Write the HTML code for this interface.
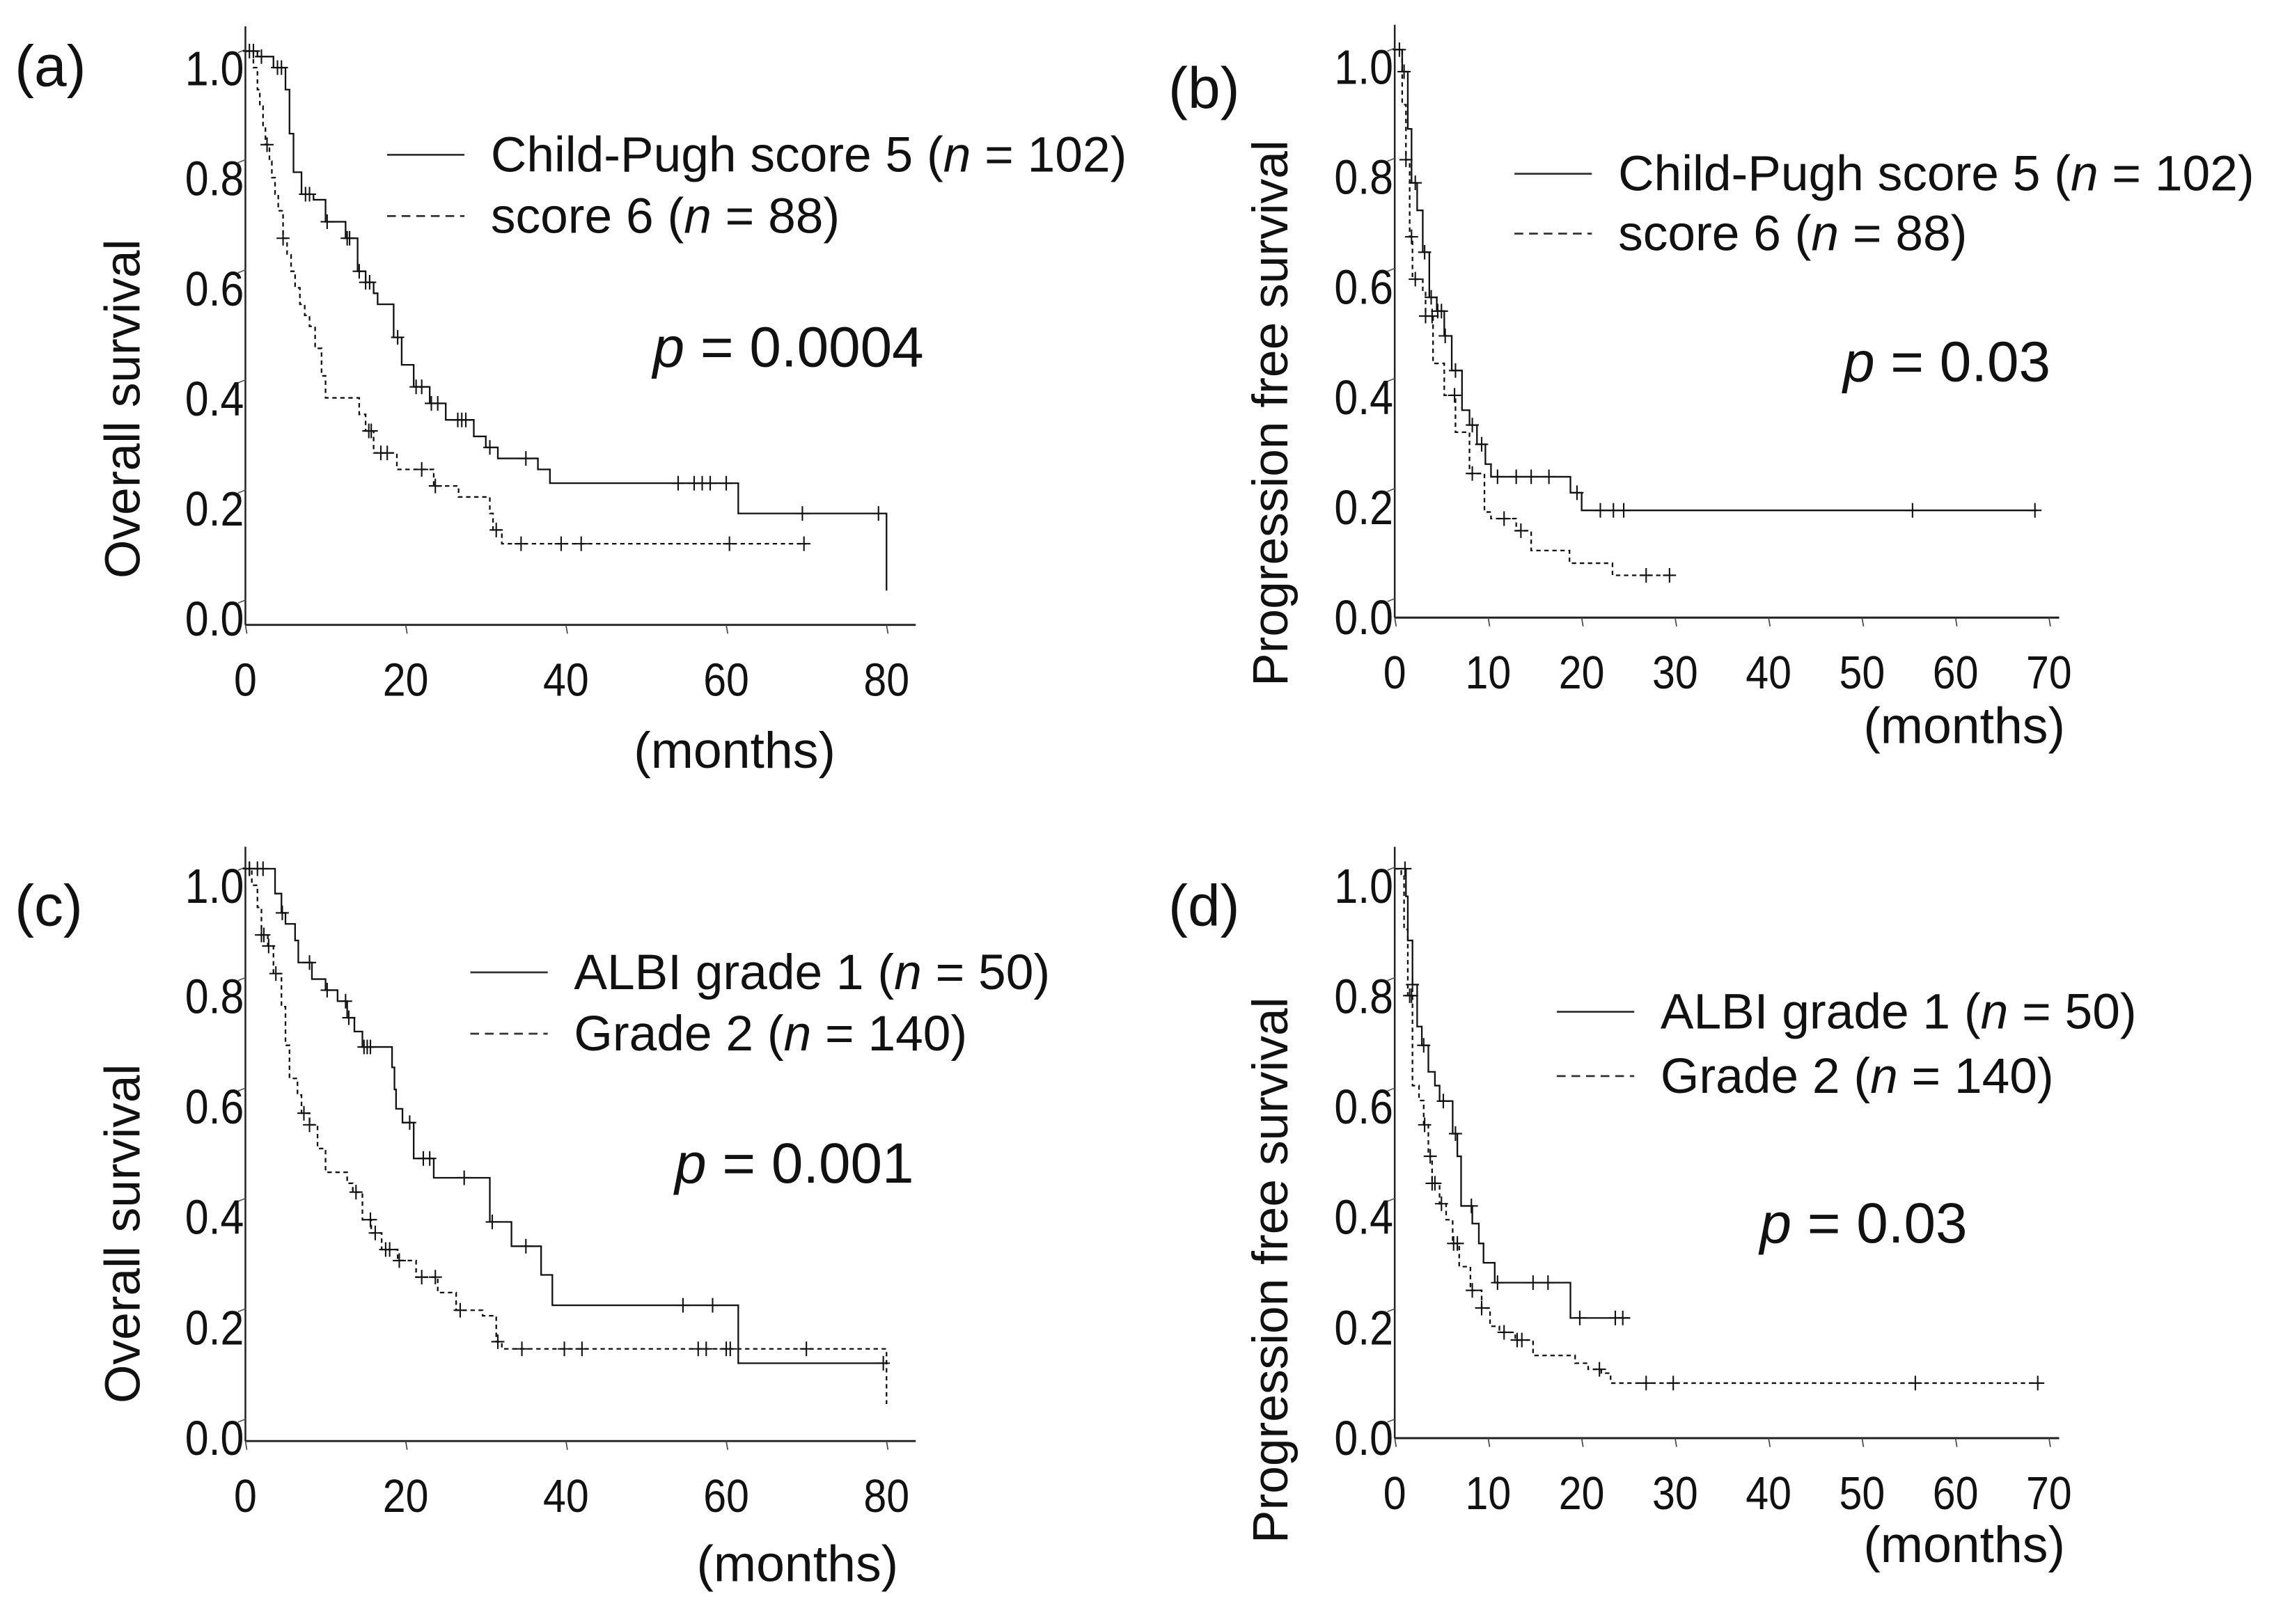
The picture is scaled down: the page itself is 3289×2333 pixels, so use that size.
<!DOCTYPE html>
<html><head><meta charset="utf-8"><style>
html,body{margin:0;padding:0;background:#fff}
svg{display:block}
text{font-family:"Liberation Sans",sans-serif;fill:#111}
</style></head><body>
<svg id="fig" xmlns="http://www.w3.org/2000/svg" width="3289" height="2333" viewBox="0 0 1568 1112.3"></svg>
<script>
// ---- Panel (a): Overall survival by Child-Pugh ----
const aSolidSteps=[[1.5,.99],[3.5,.97],[5,.93],[5.5,.85],[6,.78],[7,.74],[8.5,.73],[10,.69],[12.5,.66],[14,.6],[15,.58],[16,.56],[16.5,.54],[18.5,.48],[19.5,.43],[21,.39],[23,.36],[25,.33],[28.5,.3],[30,.28],[31.5,.26],[36.5,.24],[38,.215],[61.5,.16],[80,.02]];
const aSolidEnd=80;
const aSolidCens=[0.5,1,2,4,4.5,7.5,8,10.2,12.7,13,14.2,15,15.5,19,21.3,22,23.2,24,26.5,27,27.5,30.5,35,54,56,57,58,60,69.5,79];
const aDashSteps=[[1,.97],[1.5,.93],[1.8,.9],[2.2,.86],[2.5,.83],[3,.8],[3.3,.77],[3.7,.74],[4.1,.71],[4.7,.66],[5.2,.63],[5.7,.6],[6.2,.57],[6.8,.54],[7.4,.52],[8,.5],[8.7,.46],[9.5,.41],[10,.37],[14.2,.34],[15,.31],[16,.27],[18.9,.24],[23.5,.21],[26.6,.19],[30.5,.16],[30.9,.13],[32,.105]];
const aDashEnd=70;
const aDashCens=[2.7,4.7,15.4,15.7,16.9,17.7,22,23.7,31.3,34.4,39.4,41.9,60.4,69.7];
// ---- Panel (b): PFS by Child-Pugh ----
const bSolidSteps=[[0.8,.96],[1.4,.856],[1.8,.758],[2.4,.708],[3,.632],[3.7,.55],[4.5,.525],[5.3,.48],[6.1,.417],[7.2,.345],[8,.318],[8.8,.283],[9.7,.247],[10.3,.224],[18.8,.195],[20,.163]];
const bSolidEnd=68.7;
const bSolidCens=[0.5,1,2.2,3.2,3.9,4.6,5,5.4,6.5,8.3,9.3,11,13,14.6,16.5,19.5,22,23.4,24.5,55.4,68.5];
const bDashSteps=[[0.8,.9],[1.2,.8],[1.6,.66],[1.9,.583],[3,.56],[3.3,.516],[4.1,.43],[5.3,.372],[6.5,.305],[8,.23],[9.6,.16],[10.3,.148],[13,.126],[14.6,.09],[18.7,.067],[23.3,.045]];
const bDashEnd=29.8;
const bDashCens=[1.2,1.8,2.2,3.3,4,6.4,8.3,11.7,13.5,26.9,29.4];
// ---- Panel (c): OS by ALBI ----
const cSolidSteps=[[3.7,.955],[4.5,.92],[5,.9],[6.2,.87],[6.6,.83],[8.3,.8],[10,.78],[11.5,.76],[12.7,.73],[13.6,.705],[14.6,.677],[18.3,.64],[18.6,.6],[18.8,.565],[19.6,.54],[21,.475],[23.5,.44],[30.5,.36],[33.2,.316],[36.9,.264],[38.3,.209],[61.5,.104]];
const cSolidEnd=80;
const cSolidCens=[0.5,1.5,2.2,4.6,8,10.2,12.5,12.9,14.8,15.2,15.6,20.5,22.2,23,27.3,30.8,35,54.6,58.3,79.6];
const cDashSteps=[[0.8,.97],[1.5,.93],[2,.88],[2.8,.86],[3.5,.81],[4.5,.75],[5,.68],[5.5,.62],[6.5,.59],[7,.557],[8,.536],[9,.493],[10,.45],[12.7,.43],[13.4,.414],[14.6,.364],[15.7,.34],[17,.31],[19,.29],[21.3,.26],[24,.232],[26.3,.2],[29.6,.19],[31.3,.143],[32,.13],[80,.03]];
const cDashEnd=80;
const cDashCens=[0.5,2,2.3,2.9,3.8,7.3,8,13.8,15.6,16.2,17.5,18,19.2,22,23.7,26.8,31.5,34.5,39.8,42,56.5,57.5,60,60.5,70];
// ---- Panel (d): PFS by ALBI ----
const dSolidSteps=[[1.2,.95],[1.4,.87],[1.9,.79],[2.4,.714],[2.9,.68],[3.6,.632],[4.3,.607],[4.8,.579],[6.2,.52],[6.7,.479],[7.1,.389],[8.3,.357],[9,.321],[9.5,.286],[10.7,.25],[18.8,.186]];
const dSolidEnd=25.2;
const dSolidCens=[1.1,1.9,3.1,5.2,6.5,8.2,11,14.8,16.4,19.8,23.6,24.4];
const dDashSteps=[[0.7,.99],[1,.89],[1.4,.77],[1.9,.607],[2.6,.58],[3.1,.536],[3.6,.479],[4,.43],[4.8,.393],[5.5,.364],[6.2,.321],[6.9,.279],[8.1,.236],[9.3,.204],[10.2,.171],[11.2,.16],[12.9,.146],[14.8,.118],[19.3,.104],[20.7,.093],[22.1,.086],[23.1,.068]];
const dDashEnd=69;
const dDashCens=[1.6,1.8,3.2,3.8,4,4.3,5,6.3,6.7,8.3,9.3,11.7,13.1,13.6,21.9,26.9,29.8,55.7,68.8];
// ---- tick labels ----
const osXTicks=[0,20,40,60,80];
const pfsXTicks=[0,10,20,30,40,50,60,70];
const yTicks=[0.0,0.2,0.4,0.6,0.8,1.0];
const yTickLabels=["0.0","0.2","0.4","0.6","0.8","1.0"];

const NS="http://www.w3.org/2000/svg";
const fig=document.getElementById('fig');
function mk(tag,attrs,parent){const e=document.createElementNS(NS,tag);for(const k in attrs)e.setAttribute(k,attrs[k]);(parent||fig).appendChild(e);return e;}
function txt(s,x,y,size,parent,anchor,extra){const t=mk('text',Object.assign({x:x,y:y,'font-size':size,'text-anchor':anchor||'start','dominant-baseline':'central'},extra||{}),parent);t.textContent=s;return t;}
function survAt(steps,t){let v=1;for(const s of steps){if(s[0]<=t)v=s[1];else break;}return v;}

function panel(cfg){
  const g=mk('g',{});
  
  
  const X=t=>cfg.x0+t*cfg.xs, Y=v=>cfg.y0-v*cfg.ys;
  const ya=mk('line',{x1:cfg.x0,y1:cfg.yTop,x2:cfg.x0,y2:cfg.axisY,stroke:'#222','stroke-width':1.2},g);
  
  
  const xa=mk('line',{x1:cfg.x0,y1:cfg.axisY,x2:cfg.xEnd,y2:cfg.axisY,stroke:'#222','stroke-width':1.4},g);
  
  
  cfg.xticks.forEach(t=>{
    mk('line',{x1:X(t),y1:cfg.axisY,x2:X(t)+1,y2:cfg.axisY+6,stroke:'#444','stroke-width':0.8},g);
    const l=txt(String(t),X(t),cfg.axisY+38,32,g,'middle',{'transform':`scale(0.88,1) translate(${X(t)/0.88-X(t)},0)`});
    
    
  });
  yTicks.forEach((v,i)=>{
    mk('path',{d:`M${cfg.x0-5},${Y(v)+1} L${cfg.x0},${Y(v)-1}`,stroke:'#555','stroke-width':0.8,fill:'none'},g);
    const l=txt(yTickLabels[i],cfg.x0-1,Y(v)+12,33,g,'end',{'transform':`scale(0.88,1) translate(${(cfg.x0-1)/0.88-(cfg.x0-1)},0)`});
    
    
  });
  [[cfg.solid,cfg.solidEnd,cfg.solidCens,'',cfg.name+'-solid-curve'],[cfg.dash,cfg.dashEnd,cfg.dashCens,'3,2.5',cfg.name+'-dashed-curve']].forEach(s=>{
    let d=`M${X(0)},${Y(1)}`;
    s[0].forEach(p=>{d+=` H${X(p[0])} V${Y(p[1])}`;});
    d+=` H${X(s[1])}`;
    const p=mk('path',{d:d,fill:'none',stroke:'#111','stroke-width':1.1,'stroke-dasharray':s[3]},g);
    
    
    s[2].forEach(t=>{
      const cx=X(t),cy=Y(survAt(s[0],t));
      const c=mk('path',{d:`M${cx-4.5},${cy} H${cx+4.5} M${cx},${cy-5} V${cy+5}`,stroke:'#111','stroke-width':1,fill:'none'},g);
      
      
    });
  });
  const l1=mk('line',{x1:cfg.lx,y1:cfg.ly1,x2:cfg.lx+53,y2:cfg.ly1,stroke:'#333','stroke-width':1.3},g);
  
  
  const l2=mk('line',{x1:cfg.lx,y1:cfg.ly2,x2:cfg.lx+53,y2:cfg.ly2,stroke:'#333','stroke-width':1.3,'stroke-dasharray':'6,4'},g);
  
  
  const t1=mk('text',{x:cfg.lx+71,y:cfg.ly1,'font-size':34,'dominant-baseline':'central'},g);
  t1.innerHTML=cfg.leg1;
  
  
  const t2=mk('text',{x:cfg.lx+71,y:cfg.ly2,'font-size':34,'dominant-baseline':'central'},g);
  t2.innerHTML=cfg.leg2;
  
  
  const pv=mk('text',{x:cfg.px,y:cfg.py,'font-size':39,'dominant-baseline':'central'},g);
  pv.innerHTML='<tspan font-style="italic">p</tspan> = '+cfg.p;
  
  
  const pl=txt(cfg.label,cfg.labX,cfg.labY,40,g);
  
  
  const yt=txt(cfg.ytitle,0,0,34,g,'middle',{transform:`translate(${cfg.ytx},${cfg.yty}) rotate(-90)`});
  
  
  const xt=txt('(months)',cfg.mx,cfg.my,35,g,'middle');
  
  
}
const legCP1='Child-Pugh score 5 (<tspan font-style="italic">n</tspan> = 102)', legCP2='score 6 (<tspan font-style="italic">n</tspan> = 88)';
const legA1='ALBI grade 1 (<tspan font-style="italic">n</tspan> = 50)', legA2='Grade 2 (<tspan font-style="italic">n</tspan> = 140)';
panel({name:'panel-a',x0:168,xs:5.4875,y0:412,ys:377,yTop:18,axisY:428,xEnd:627,xticks:osXTicks,solid:aSolidSteps,solidEnd:aSolidEnd,solidCens:aSolidCens,dash:aDashSteps,dashEnd:aDashEnd,dashCens:aDashCens,lx:265,ly1:106,ly2:148,leg1:legCP1,leg2:legCP2,px:447,py:238,p:'0.0004',label:'(a)',labX:10,labY:45,ytitle:'Overall survival',ytx:84,yty:280,mx:503,my:514});
panel({name:'panel-b',x0:955,xs:6.4,y0:411,ys:377,yTop:17,axisY:423,xEnd:1410,xticks:pfsXTicks,solid:bSolidSteps,solidEnd:bSolidEnd,solidCens:bSolidCens,dash:bDashSteps,dashEnd:bDashEnd,dashCens:bDashCens,lx:1037,ly1:119,ly2:160,leg1:legCP1,leg2:legCP2,px:1262,py:248,p:'0.03',label:'(b)',labX:800,labY:60,ytitle:'Progression free survival',ytx:870,yty:283,mx:1345,my:497});
panel({name:'panel-c',x0:168,xs:5.4875,y0:973,ys:378,yTop:580,axisY:987,xEnd:627,xticks:osXTicks,solid:cSolidSteps,solidEnd:cSolidEnd,solidCens:cSolidCens,dash:cDashSteps,dashEnd:cDashEnd,dashCens:cDashCens,lx:322,ly1:666,ly2:708,leg1:legA1,leg2:legA2,px:462,py:797,p:'0.001',label:'(c)',labX:10,labY:620,ytitle:'Overall survival',ytx:84,yty:845,mx:546,my:1071});
panel({name:'panel-d',x0:955,xs:6.4,y0:973,ys:378,yTop:580,axisY:985,xEnd:1410,xticks:pfsXTicks,solid:dSolidSteps,solidEnd:dSolidEnd,solidCens:dSolidCens,dash:dDashSteps,dashEnd:dDashEnd,dashCens:dDashCens,lx:1066,ly1:693,ly2:737,leg1:legA1,leg2:legA2,px:1205,py:838,p:'0.03',label:'(d)',labX:800,labY:620,ytitle:'Progression free survival',ytx:870,yty:870,mx:1345,my:1058});
</script>
</body></html>
